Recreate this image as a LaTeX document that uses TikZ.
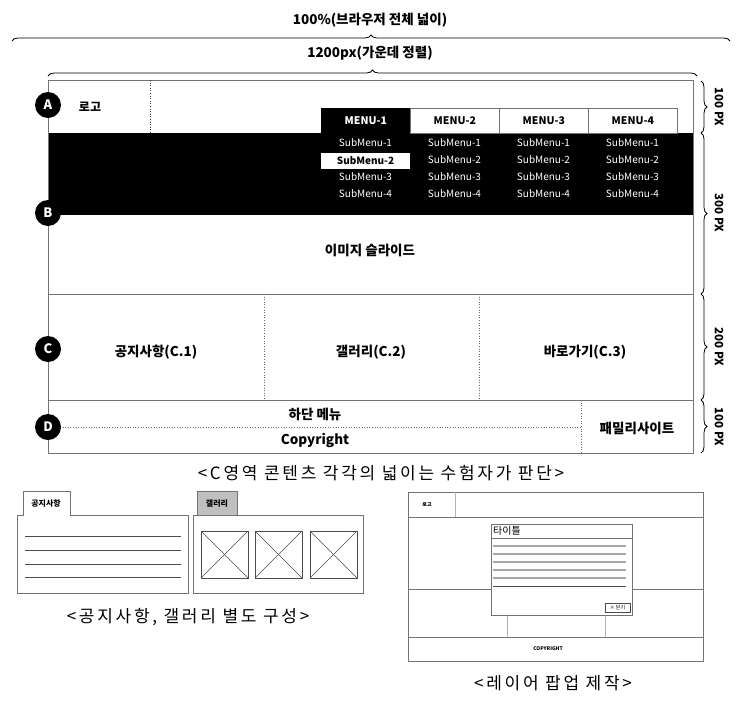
\documentclass[tikz,border=0pt]{standalone}
\usepackage{fontspec}
\setmainfont{Noto Sans CJK KR}
\newfontfamily\capfont{Noto Sans CJK KR}[LetterSpace=16]
\usetikzlibrary{decorations.pathreplacing}
\begin{document}
\begin{tikzpicture}[x=1pt,y=-1pt,
  frame/.style={draw=black!55, line width=0.8pt},
  thin/.style={draw=black!55, line width=0.6pt},
  dotline/.style={draw=black!60, dotted, line width=0.6pt},
  lbl/.style={font=\bfseries\fontsize{13.5}{15}\selectfont},
  circ/.style={circle, fill=black, text=white, minimum size=26pt, inner sep=0pt, font=\bfseries\fontsize{13}{13}\selectfont},
  menu/.style={draw=black!55, line width=0.7pt, anchor=north west, minimum width=89pt, minimum height=25pt, inner sep=0pt, font=\bfseries\fontsize{10.5}{11}\selectfont},
  sub/.style={text=white, inner sep=0pt, font=\fontsize{10}{10}\selectfont},
  brc/.style={decorate, decoration={brace, amplitude=6pt}, draw=black, line width=0.8pt},
  px/.style={rotate=-90, font=\bfseries\fontsize{11.5}{12}\selectfont},
  captxt/.style={font=\capfont\fontsize{17}{19}\selectfont},
  tiny/.style={font=\bfseries\fontsize{5}{6}\selectfont, inner sep=0pt},
]
\useasboundingbox (0,0) rectangle (741,710);
% top labels and braces
\node[lbl] (t1) at (370,20) {100\%(브라우저 전체 넓이)};
\coordinate (b1l) at (12,41); \coordinate (b1r) at (730,41);
\draw[brc] (b1l) -- (b1r);
\node[lbl] (t2) at (370,53) {1200px(가운데 정렬)};
\coordinate (b2l) at (48,76); \coordinate (b2r) at (697,76);
\draw[brc] (b2l) -- (b2r);

% black band
\fill[black] (48,133) rectangle (693,215);
% main frame
\draw[frame] (48,80) rectangle (693,453);
\draw[frame] (48,294) -- (693,294);
\draw[frame] (48,400) -- (693,400);
% header
\draw[dotline, draw=black!80] (150,80) -- (150,133);
\node[lbl, font=\bfseries\fontsize{12}{13}\selectfont] (logo) at (90,107) {로고};
\node[menu, fill=black, text=white, draw=black] (m1) at (321,108) {MENU-1};
\node[menu, fill=white] (m2) at (410,108) {MENU-2};
\node[menu, fill=white] (m3) at (499,108) {MENU-3};
\node[menu, fill=white] (m4) at (588,108) {MENU-4};
% submenus
\node[fill=white, minimum width=89pt, minimum height=16pt, inner sep=0pt, font=\bfseries\fontsize{10}{10}\selectfont] (s12) at (365.5,160.5) {SubMenu-2};
\node[sub] (s11) at (365.5,143) {SubMenu-1};
\node[sub] (s13) at (365.5,177) {SubMenu-3};
\node[sub] (s14) at (365.5,194) {SubMenu-4};
\foreach \c/\x in {2/454.5, 3/543.5, 4/632.5}{
  \node[sub] (s\c1) at (\x,143) {SubMenu-1};
  \node[sub] (s\c2) at (\x,160) {SubMenu-2};
  \node[sub] (s\c3) at (\x,177) {SubMenu-3};
  \node[sub] (s\c4) at (\x,194) {SubMenu-4};
}
\node[lbl] (slide) at (370,250) {이미지 슬라이드};
% section C
\draw[dotline] (264,294) -- (264,400);
\draw[dotline] (479,294) -- (479,400);
\node[lbl] (c1) at (156,352) {공지사항(C.1)};
\node[lbl] (c2) at (371,352) {갤러리(C.2)};
\node[lbl] (c3) at (585,352) {바로가기(C.3)};
% section D
\draw[dotline] (581,400) -- (581,453);
\draw[dotline] (60,427) -- (581,427);
\node[lbl] (d1) at (315,414) {하단 메뉴};
\node[lbl] (d2) at (315,440) {Copyright};
\node[lbl] (d3) at (637,428) {패밀리사이트};
% circles
\node[circ] (ca) at (48,105) {A};
\node[circ] (cb) at (48,213) {B};
\node[circ] (cc) at (48,349) {C};
\node[circ] (cd) at (48,427) {D};
% right braces
\coordinate (r0) at (701,81); \coordinate (r1) at (701,133);
\coordinate (r2) at (701,294); \coordinate (r3) at (701,400);
\coordinate (r4) at (701,453);
\draw[brc] (r0) -- (r1);
\draw[brc] (r1) -- (r2);
\draw[brc] (r2) -- (r3);
\draw[brc] (r3) -- (r4);
\node[px] (p1) at (719,107) {100 PX};
\node[px] (p2) at (719,213) {300 PX};
\node[px] (p3) at (719,347) {200 PX};
\node[px] (p4) at (719,427) {100 PX};
\node[captxt] (cap1) at (381,473) {<C영역 콘텐츠 각각의 넓이는 수험자가 판단>};

% bottom-left: notice tab
\draw[thin] (17,593) -- (17,515) -- (23,515) -- (23,491) -- (70,491) -- (70,515) -- (188,515) -- (188,593) -- cycle;
\node[tiny, font=\bfseries\fontsize{8}{8}\selectfont] (nt) at (46,503) {공지사항};
\foreach \y in {536,550,564,577}{ \draw[draw=black!70, line width=0.6pt] (25,\y) -- (181,\y); }
% gallery tab
\draw[thin] (193,515) rectangle (363,593);
\draw[thin, fill=black!25] (197,491) rectangle (237,515);
\node[tiny, font=\bfseries\fontsize{8}{8}\selectfont] (gt) at (217,503) {갤러리};
\foreach \x in {201,255,310}{
  \draw[draw=black!70, line width=0.6pt] (\x,531) rectangle ++(47,47);
  \draw[draw=black!70, line width=0.5pt] (\x,531) -- ++(47,47);
  \draw[draw=black!70, line width=0.5pt] (\x+47,531) -- ++(-47,47);
}
\node[captxt] (cap2) at (188,617) {<공지사항, 갤러리 별도 구성>};

% bottom-right: layer popup
\draw[thin] (408,492) rectangle (703,661);
\draw[thin] (408,517) -- (703,517);
\draw[draw=black!30, line width=0.6pt] (455,492) -- (455,517);
\node[tiny] (plogo) at (427,505) {로고};
\draw[thin] (408,589) -- (703,589);
\draw[draw=black!30, line width=0.6pt] (507,589) -- (507,637);
\draw[draw=black!30, line width=0.6pt] (605,589) -- (605,637);
\draw[thin] (408,637) -- (703,637);
\node[tiny] (pcopy) at (548,649) {COPYRIGHT};
% popup window
\draw[thin, fill=white] (491,524) rectangle (632,615);
\draw[thin] (491,538) -- (632,538);
\node[anchor=west, inner sep=0pt, font=\fontsize{10}{10}\selectfont] (ptitle) at (493,531) {타이틀};
\foreach \y in {546,554,562,570,578}{ \draw[draw=black!35, line width=1.3pt] (493,\y) -- (626,\y); }
\draw[draw=black!70, line width=0.6pt] (493,586) -- (626,586);
\node[draw=black!70, line width=0.5pt, minimum width=25pt, minimum height=9pt, inner sep=0pt, font=\fontsize{5}{5}\selectfont] (pclose) at (617.5,607.5) {× 닫기};
\node[captxt] (cap3) at (553,683) {<레이어 팝업 제작>};
\end{tikzpicture}
\end{document}
